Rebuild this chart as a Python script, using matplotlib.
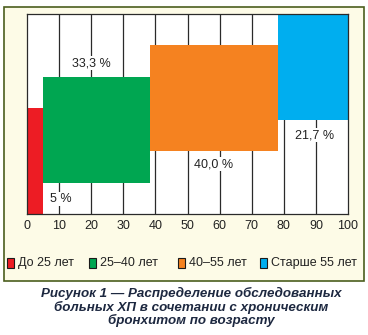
import matplotlib.pyplot as plt
from matplotlib.patches import Rectangle

plt.rcParams['font.family'] = ['Liberation Sans', 'DejaVu Sans']

# Данные: доли возрастных групп, %
groups = ["До 25 лет", "25–40 лет", "40–55 лет", "Старше 55 лет"]
shares = [5, 33.3, 40.0, 21.7]
share_labels = ["5 %", "33,3 %", "40,0 %", "21,7 %"]
colors = ['#ed1c24', '#00a651', '#f58220', '#00aeef']

# раскладка: ступенчатое смещение полос по вертикали
bar_bottoms = [0, 15.5, 31.5, 47]
bar_height = 53
label_pos = [(10.5, 7.5), (20.2, 75.5), (58, 25), (89.7, 39.5)]

starts = [sum(shares[:i]) for i in range(len(shares))]

fig = plt.figure(figsize=(3.68, 3.35), dpi=100)
fig.patch.set_facecolor('white')

# рамка рисунка
fig.patches.append(Rectangle((4/368, 1 - 281/335), 360/368, 274/335,
                             transform=fig.transFigure, facecolor='#fdfbe7',
                             edgecolor='#4b5e1e', linewidth=1.2, zorder=-1))

ax = fig.add_axes([27/368, 1 - 214/335, 321/368, 200/335])
ax.set_zorder(2)
ax.set_facecolor('white')

for x in range(10, 100, 10):
    ax.axvline(x, color='#2a2a2a', linewidth=0.9, zorder=1)

ax.bar(starts, bar_height, width=shares, bottom=bar_bottoms, align='edge',
       color=colors, linewidth=0, zorder=2)

for lab, (x, y) in zip(share_labels, label_pos):
    ax.text(x, y, lab, ha='center', va='center', fontsize=9, color='#222222',
            zorder=3, bbox=dict(facecolor='white', edgecolor='none', pad=1))

ax.set_xlim(0, 100)
ax.set_ylim(0, 100)
ax.set_xticks(range(0, 101, 10))
ax.set_yticks([])
ax.tick_params(axis='x', length=0, pad=4, labelsize=9, labelcolor='#222222')
for s in ax.spines.values():
    s.set_color('#2a2a2a')
    s.set_linewidth(0.9)

# легенда
leg_x = [7, 89, 178, 260]
for g, c, x in zip(groups, colors, leg_x):
    fig.patches.append(Rectangle((x/368, 1 - 268/335), 7/368, 10/335,
                                 transform=fig.transFigure, facecolor=c,
                                 edgecolor='#1a1a1a', linewidth=0.8, zorder=3))
    fig.text((x + 11)/368, 1 - 263/335, g, ha='left', va='center',
             fontsize=9, color='#222222')

fig.text(191/368, 1 - 307/335,
         "Рисунок 1 — Распределение обследованных\n"
         "больных ХП в сочетании с хроническим\n"
         "бронхитом по возрасту",
         ha='center', va='center', fontsize=9.6, fontweight='bold',
         fontstyle='italic', color='#1d2840', linespacing=1.05)

fig.savefig('out.png', dpi=100)
